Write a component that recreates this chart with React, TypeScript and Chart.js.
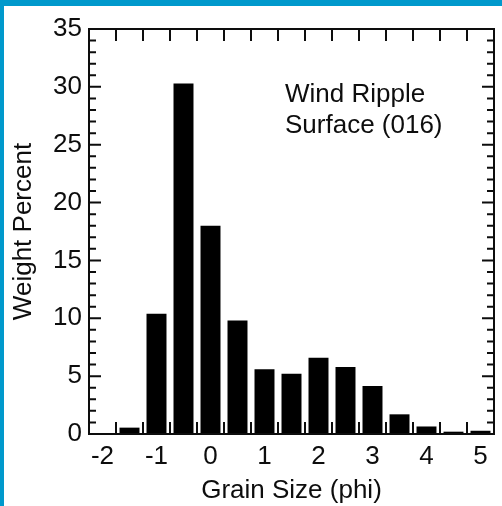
import React, { useEffect, useRef } from "react";
import { Chart, registerables } from "chart.js";

Chart.register(...registerables);

const categories = ["-2", "-1.5", "-1", "-0.5", "0", "0.5", "1", "1.5", "2", "2.5", "3", "3.5", "4", "4.5", "5"];
const weightPercent = [null, 0.55, 10.4, 30.3, 18.0, 9.8, 5.6, 5.2, 6.6, 5.8, 4.15, 1.7, 0.65, 0.2, 0.28];
const yTickValues = [0, 5, 10, 15, 20, 25, 30, 35];
const annotationLines = ["Wind Ripple", "Surface (016)"];

const FONT = "'Liberation Sans', Arial, Helvetica, sans-serif";
const INK = "#0d0d0d";

const frameTicks = {
  id: "frameTicks",
  afterDatasetsDraw(chart: any) {
    const { ctx, chartArea: a, scales } = chart;
    const x = scales.x;
    const y = scales.y;
    ctx.save();
    ctx.strokeStyle = INK;
    ctx.lineWidth = 2;
    ctx.beginPath();
    for (let i = 1; i < categories.length; i++) {
      const px = (x.getPixelForValue(i - 1) + x.getPixelForValue(i)) / 2;
      ctx.moveTo(px, a.top);
      ctx.lineTo(px, a.top + 12);
      ctx.moveTo(px, a.bottom);
      ctx.lineTo(px, a.bottom - 12);
    }
    const yMax = yTickValues[yTickValues.length - 1];
    for (let v = 0; v <= yMax; v++) {
      const py = y.getPixelForValue(v);
      const len = v % 5 === 0 ? 12 : 7;
      ctx.moveTo(a.left, py);
      ctx.lineTo(a.left + len, py);
      ctx.moveTo(a.right, py);
      ctx.lineTo(a.right - len, py);
    }
    ctx.stroke();
    ctx.strokeRect(a.left, a.top, a.right - a.left, a.bottom - a.top);
    // annotation
    ctx.fillStyle = INK;
    ctx.font = `26px ${FONT}`;
    ctx.textAlign = "left";
    ctx.textBaseline = "alphabetic";
    ctx.fillText(annotationLines[0], a.left + 196, y.getPixelForValue(28.7));
    ctx.fillText(annotationLines[1], a.left + 196, y.getPixelForValue(26.0));
    ctx.restore();
  },
};

export default function App() {
  const ref = useRef<HTMLCanvasElement>(null);
  useEffect(() => {
    if (!ref.current) return;
    const chart = new Chart(ref.current, {
      type: "bar",
      data: {
        labels: categories,
        datasets: [
          {
            data: weightPercent as any,
            backgroundColor: "#000",
            borderWidth: 0,
            barPercentage: 0.74,
            categoryPercentage: 1,
          },
        ],
      },
      options: {
        responsive: false,
        animation: false,
        devicePixelRatio: 1,
        layout: { padding: { left: 0, top: 23, right: 8, bottom: 0 } },
        plugins: { legend: { display: false }, tooltip: { enabled: false } },
        scales: {
          x: {
            offset: true,
            grid: { display: false, drawTicks: false },
            border: { display: false },
            ticks: {
              autoSkip: false,
              maxRotation: 0,
              minRotation: 0,
              padding: 7,
              color: INK,
              font: { family: FONT, size: 26 },
              callback: (_v: any, i: number) => (Number(categories[i]) % 1 === 0 ? categories[i] : ""),
            },
            title: {
              display: true,
              text: "Grain Size (phi)",
              color: INK,
              font: { family: FONT, size: 26 },
              padding: { top: 0, bottom: 0 },
            },
            afterFit: (s: any) => {
              s.height = 72;
            },
          },
          y: {
            min: 0,
            max: 35,
            grid: { display: false, drawTicks: false },
            border: { display: false },
            ticks: {
              stepSize: 5,
              padding: 7,
              color: INK,
              font: { family: FONT, size: 26 },
            },
            title: {
              display: true,
              text: "Weight Percent",
              color: INK,
              font: { family: FONT, size: 26 },
              padding: { top: 4, bottom: 0 },
            },
            afterFit: (s: any) => {
              s.width = 85;
            },
          },
        },
      },
      plugins: [frameTicks],
    });
    return () => chart.destroy();
  }, []);

  return (
    <div
      style={{
        position: "fixed",
        left: 0,
        top: 0,
        width: 502,
        height: 506,
        boxSizing: "border-box",
        borderTop: "6px solid #0099cc",
        borderLeft: "4px solid #0099cc",
        background: "#fff",
        overflow: "hidden",
      }}
    >
      <canvas ref={ref} width={498} height={500} style={{ display: "block" }} />
    </div>
  );
}
